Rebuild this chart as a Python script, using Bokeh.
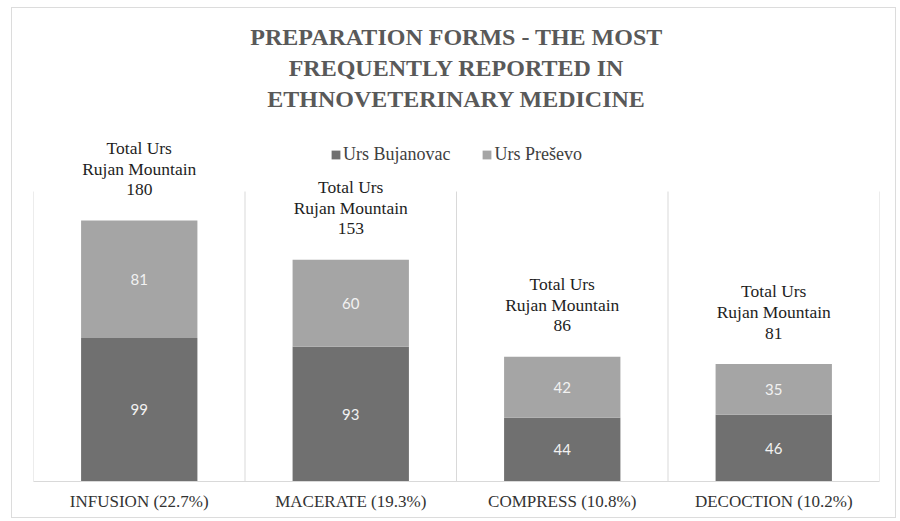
from bokeh.plotting import figure
from bokeh.models import ColumnDataSource, FactorRange, Range1d, Legend, LegendItem, Title
from bokeh.core.properties import value
from bokeh.embed import file_html
from bokeh.resources import INLINE

# ---- data ----
categories = ["INFUSION (22.7%)", "MACERATE (19.3%)", "COMPRESS (10.8%)", "DECOCTION (10.2%)"]
bujanovac = [99, 93, 44, 46]
presevo = [81, 60, 42, 35]
series_names = ["Urs Bujanovac", "Urs Preševo"]
total_lines = ["Total Urs", "Rujan Mountain"]
title_lines = ["PREPARATION FORMS - THE MOST", "FREQUENTLY REPORTED IN", "ETHNOVETERINARY MEDICINE"]
y_axis_max = 200

totals = [a + b for a, b in zip(bujanovac, presevo)]

src = ColumnDataSource(dict(
    cat=categories,
    buj=bujanovac,
    pre=presevo,
    total=totals,
    buj_mid=[b / 2 for b in bujanovac],
    pre_mid=[b + p / 2 for b, p in zip(bujanovac, presevo)],
    buj_text=[str(v) for v in bujanovac],
    pre_text=[str(v) for v in presevo],
    total_text=[str(t) for t in totals],
    line1=[total_lines[0]] * len(categories),
    line2=[total_lines[1]] * len(categories),
))

DARK = "#707070"
LIGHT = "#a5a5a5"
GRID = "#d9d9d9"

p = figure(
    x_range=FactorRange(*categories),
    y_range=Range1d(0, 254.5),
    width=885, height=511,
    output_backend="svg", toolbar_location=None,
    min_border_left=21, min_border_right=18,
    min_border_top=104, min_border_bottom=38,
    y_axis_location=None, title_location=None,
)
p.outline_line_color = None
p.xgrid.visible = False
p.ygrid.visible = False
p.styles = {"border": "1px solid #dcdcdc", "margin-left": "11px", "margin-top": "7px"}

# title, one Title per line (bottom line added first = closest to plot)
title_standoffs = [2, 3, 3]
for line, so in zip(reversed(title_lines), title_standoffs):
    p.add_layout(Title(
        text=line, align="center",
        text_font="Liberation Serif", text_font_style="bold",
        text_font_size="24px", text_color="#595959",
        standoff=so,
    ), "above")

# category separators
bounds = list(range(len(categories) + 1))
p.segment(x0=bounds, y0=[0] * len(bounds), x1=bounds, y1=[y_axis_max] * len(bounds),
          line_color=GRID, line_width=1)

rs = p.vbar_stack(["buj", "pre"], x="cat", width=0.55, color=[DARK, LIGHT],
                  line_color=None, source=src)

inner = dict(source=src, text_align="center", text_baseline="middle",
             text_font=value("Lato"), text_font_size="15px", text_color="#f2f2f2")
p.text(x="cat", y="buj_mid", text="buj_text", **inner)
p.text(x="cat", y="pre_mid", text="pre_text", **inner)

tot = dict(source=src, text_align="center", text_baseline="middle",
           text_font=value("Liberation Serif"), text_font_size="17.5px",
           text_color="#1e1e1e")
p.text(x="cat", y="total", text="total_text", y_offset=-31, **tot)
p.text(x="cat", y="total", text="line2", y_offset=-52, **tot)
p.text(x="cat", y="total", text="line1", y_offset=-73, **tot)

legend = Legend(
    items=[LegendItem(label=series_names[0], renderers=[rs[0]]),
           LegendItem(label=series_names[1], renderers=[rs[1]])],
    orientation="horizontal", location="top_center",
    border_line_color=None, background_fill_alpha=0,
    glyph_width=11, glyph_height=11, label_standoff=2, spacing=31,
    padding=0, margin=32,
    label_text_font="Liberation Serif", label_text_font_size="18px",
    label_text_color="#404040",
)
p.add_layout(legend)

ax = p.xaxis[0]
ax.axis_line_color = GRID
ax.major_tick_line_color = None
ax.minor_tick_line_color = None
ax.major_label_text_font = "Liberation Serif"
ax.major_label_text_font_size = "17px"
ax.major_label_text_color = "#333333"
ax.major_label_standoff = 4

open("out.html", "w").write(file_html(p, INLINE))
